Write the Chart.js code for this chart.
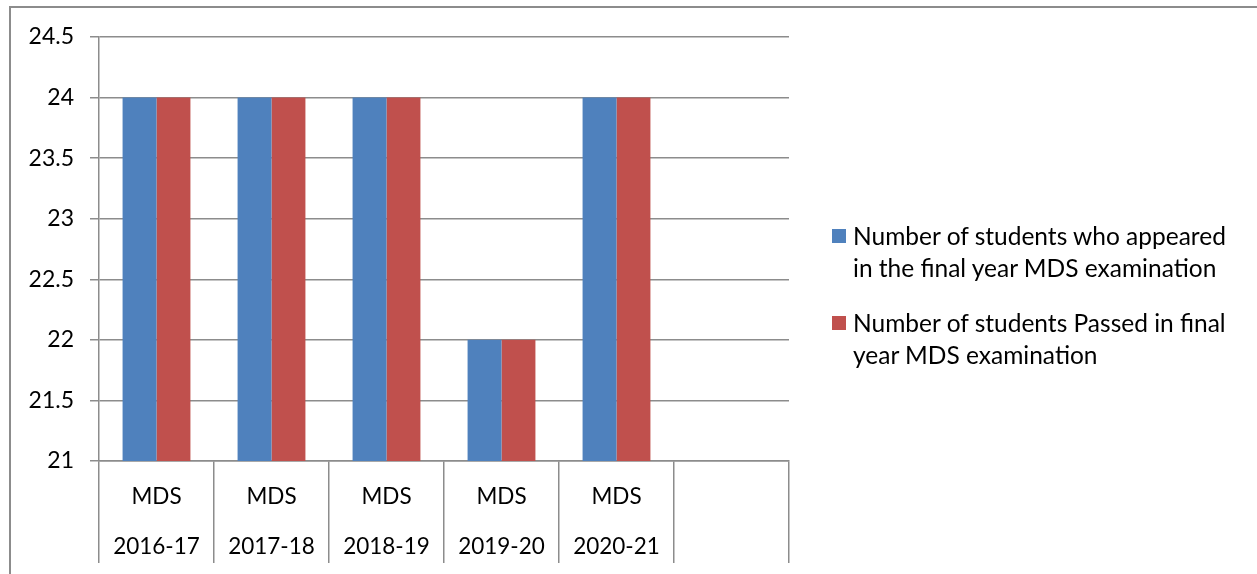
<!DOCTYPE html>
<html>
<head>
<meta charset="utf-8">
<script src="https://cdn.jsdelivr.net/npm/chart.js@4.4.0/dist/chart.umd.min.js"></script>
<style>
  body { margin: 0; overflow: hidden; background: #fff; width: 1257px; height: 574px; position: relative; }
  #frame { position: absolute; left: 9px; top: 6px; width: 1300px; height: 640px; border: 2px solid #8c8c8c; }
  #c { position: absolute; left: 0; top: 0; }
  #legend { position: absolute; left: 832px; top: 220px; font-family: Lato, sans-serif; font-size: 24.5px; color: #000; }
  .item { position: relative; padding-left: 21px; line-height: 32px; white-space: nowrap; margin-bottom: 23px; }
  .sw { position: absolute; left: 0; top: 9px; width: 14px; height: 14px; }
</style>
</head>
<body>
<div id="frame"></div>
<canvas id="c" width="1257" height="574"></canvas>
<div id="legend"></div>
<script>
var programs = ['MDS', 'MDS', 'MDS', 'MDS', 'MDS', ''];
var years = ['2016-17', '2017-18', '2018-19', '2019-20', '2020-21', ''];
var appeared = [24, 24, 24, 22, 24, null];
var passed = [24, 24, 24, 22, 24, null];
var seriesNames = [
    ['Number of students who appeared', 'in the final year MDS examination'],
    ['Number of students Passed in final', 'year MDS examination']
];
var colors = ['#4F81BD', '#C0504D'];

var labels = programs.map(function (p, i) { return [p, years[i]]; });
var gridColor = '#8c8c8c';

var ctx = document.getElementById('c').getContext('2d');
var chart = new Chart(ctx, {
    type: 'bar',
    data: {
        labels: labels,
        datasets: [{
            label: seriesNames[0].join(' '),
            data: appeared,
            backgroundColor: colors[0],
            categoryPercentage: 0.59,
            barPercentage: 1
        }, {
            label: seriesNames[1].join(' '),
            data: passed,
            backgroundColor: colors[1],
            categoryPercentage: 0.59,
            barPercentage: 1
        }]
    },
    options: {
        responsive: false,
        animation: false,
        layout: { padding: { left: 0, top: 37, right: 468, bottom: 0 } },
        plugins: { legend: { display: false }, tooltip: { enabled: false } },
        scales: {
            x: {
                grid: { drawOnChartArea: false, offset: true, color: gridColor, lineWidth: 1.5, tickLength: 102 },
                border: { color: gridColor, width: 1.5 },
                ticks: {
                    color: '#000',
                    padding: -91,
                    maxRotation: 0,
                    autoSkip: false,
                    font: { family: 'Lato', size: 22.5, lineHeight: '50px' }
                },
                afterFit: function (scale) { scale.height = 113; }
            },
            y: {
                min: 21,
                max: 24.5,
                grid: { color: gridColor, lineWidth: 1.5, tickLength: 9 },
                border: { color: gridColor, width: 1.5 },
                ticks: {
                    stepSize: 0.5,
                    color: '#000',
                    padding: 16,
                    font: { family: 'Lato', size: 23 },
                    callback: function (v) { return String(v); }
                },
                afterFit: function (scale) { scale.width = 99; }
            }
        }
    }
});

var legend = document.getElementById('legend');
chart.data.datasets.forEach(function (ds, i) {
    var item = document.createElement('div');
    item.className = 'item';
    item.innerHTML = '<span class="sw" style="background:' + ds.backgroundColor + '"></span>' + seriesNames[i].join('<br>');
    legend.appendChild(item);
});
</script>
</body>
</html>
